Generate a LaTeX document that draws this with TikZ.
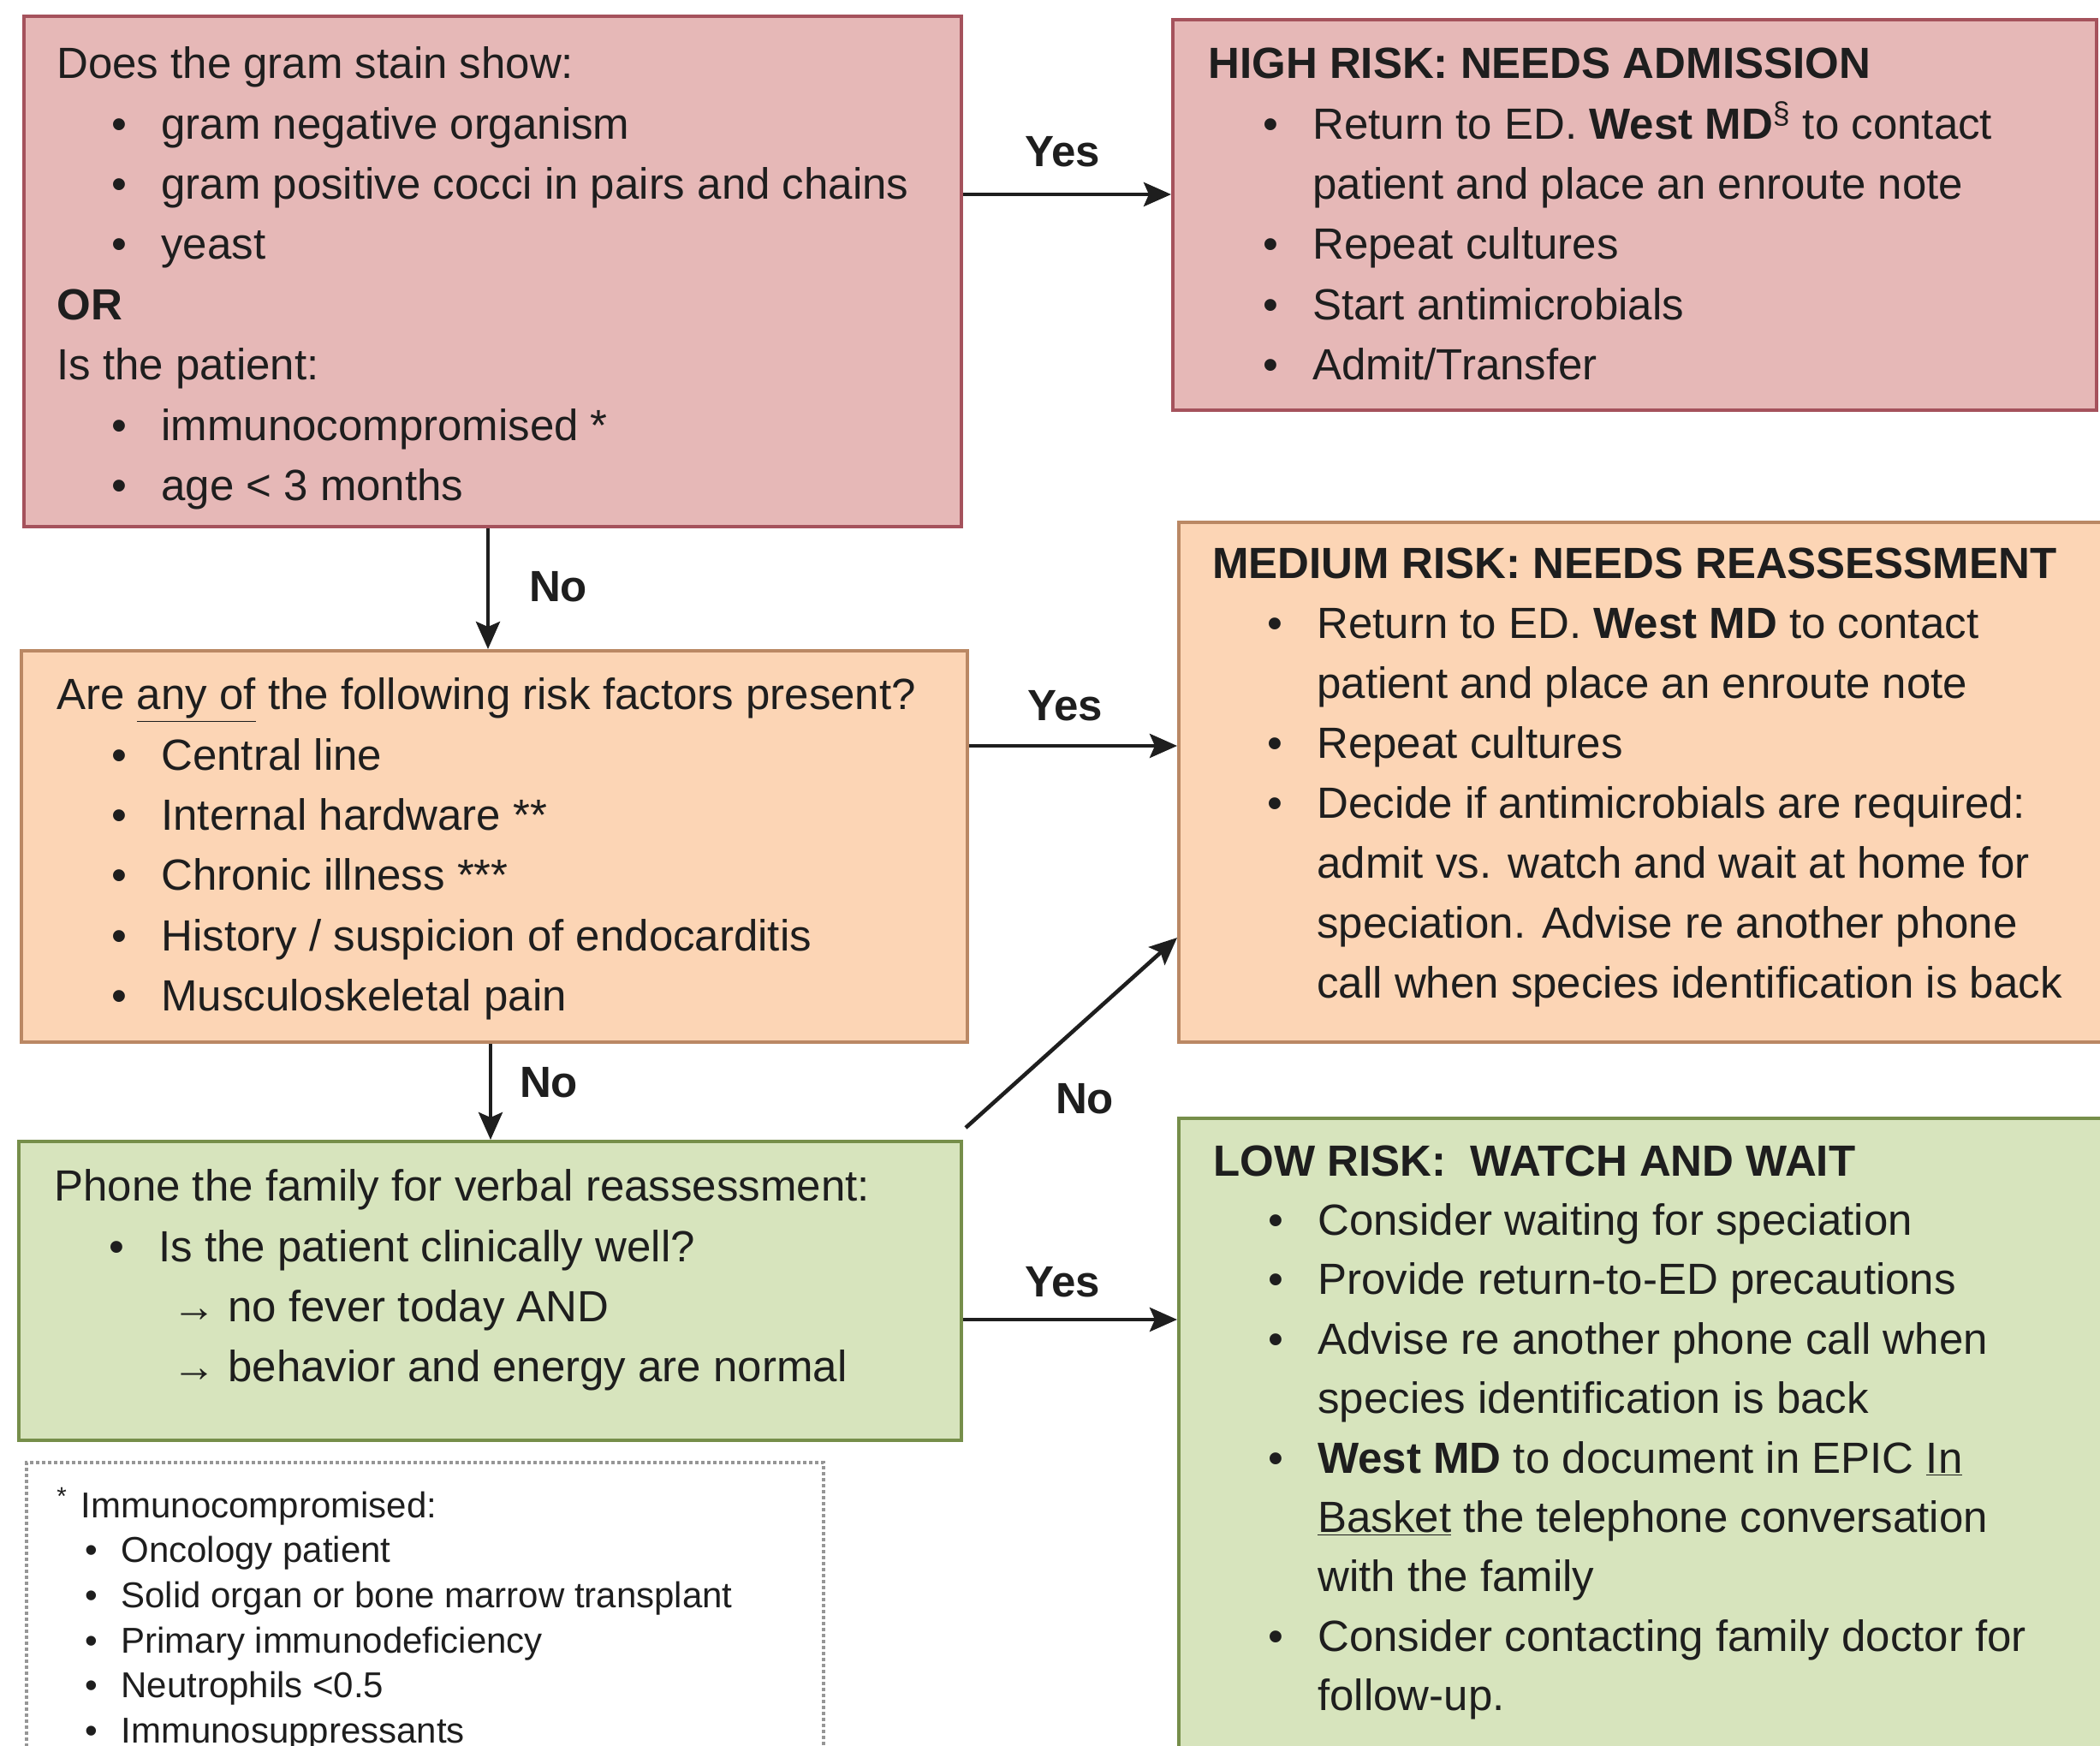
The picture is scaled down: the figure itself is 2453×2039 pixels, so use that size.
\documentclass[tikz,border=0pt]{standalone}
\usepackage{fontspec}
\setmainfont{Liberation Sans}
\usetikzlibrary{positioning,arrows.meta,calc,fit}
\definecolor{hifill}{RGB}{230,184,183}
\definecolor{hiline}{RGB}{165,82,92}
\definecolor{medfill}{RGB}{252,213,181}
\definecolor{medline}{RGB}{186,136,100}
\definecolor{lofill}{RGB}{215,228,189}
\definecolor{loline}{RGB}{118,142,74}
\definecolor{ink}{RGB}{30,30,30}
\definecolor{gray60}{RGB}{150,150,150}
\newcommand{\bul}{\hspace*{32pt}\makebox[29pt][l]{\textbullet}}
\newcommand{\cnt}{\hspace*{61pt}}
\newcommand{\sbul}{\hspace*{16.5pt}\makebox[21pt][l]{\textbullet}}
\tikzset{
  redbox/.style={draw=hiline, line width=2pt, fill=hifill, inner sep=0pt},
  orgbox/.style={draw=medline, line width=2pt, fill=medfill, inner sep=0pt},
  grnbox/.style={draw=loline, line width=2pt, fill=lofill, inner sep=0pt},
  notebox/.style={draw=gray60, line width=1.6pt, dash pattern=on 2pt off 1.5pt, fill=white, inner sep=0pt},
  txt/.style={anchor=north west, align=left, inner sep=0pt, text=ink,
              font=\fontsize{25.5}{35.2}\selectfont},
  notetxt/.style={txt, font=\fontsize{21}{26.3}\selectfont},
  lbl/.style={font=\fontsize{25.5}{30}\selectfont\bfseries, text=ink},
  arr/.style={-{Stealth[length=16pt,width=14pt,inset=3pt]}, line width=2.3pt, draw=ink},
}

\begin{document}
\begin{tikzpicture}[x=0.5pt,y=-0.5pt]
  \clip (0,0) rectangle (2453,2039);
  \fill[white] (0,0) rectangle (2453,2039);

  % boxes
  \node[redbox, fit={(28,19) (1123,615)}] (gram) {};
  \node[redbox, fit={(1370,23) (2449,479)}] (hi) {};
  \node[orgbox, fit={(25,760) (1130,1217)}] (risk) {};
  \node[orgbox, fit={(1377,610) (2460,1217)}] (med) {};
  \node[grnbox, fit={(22,1333) (1123,1682)}] (phone) {};
  \node[grnbox, fit={(1377,1306) (2460,2080)}] (low) {};
  \node[notebox, fit={(31,1708) (962,2080)}] (note) {};

  % texts
  \node[txt] (gram-t) at (66,42) {\strut Does the gram stain show:\\
    \bul gram negative organism\\
    \bul gram positive cocci in pairs and chains\\
    \bul yeast\\
    \textbf{OR}\\
    Is the patient:\\
    \bul immunocompromised *\\
    \bul age < 3 months};

  \node[txt] (hi-t) at (1411,42) {\strut\textbf{HIGH RISK: NEEDS ADMISSION}\\
    \bul Return to ED. \textbf{West MD}\textsuperscript{\S} to contact\\
    \cnt patient and place an enroute note\\
    \bul Repeat cultures\\
    \bul Start antimicrobials\\
    \bul Admit/Transfer};

  \node[txt] (risk-t) at (66,779) {\strut Are \underline{any of} the following risk factors present?\\
    \bul Central line\\
    \bul Internal hardware **\\
    \bul Chronic illness ***\\
    \bul History / suspicion of endocarditis\\
    \bul Musculoskeletal pain};

  \node[txt, font=\fontsize{25.5}{35}\selectfont] (med-t) at (1416,626) {\strut\textbf{MEDIUM RISK: NEEDS REASSESSMENT}\\
    \bul Return to ED. \textbf{West MD} to contact\\
    \cnt patient and place an enroute note\\
    \bul Repeat cultures\\
    \bul Decide if antimicrobials are required:\\
    \cnt admit vs. watch and wait at home for\\
    \cnt speciation. Advise re another phone\\
    \cnt call when species identification is back};

  \node[txt] (phone-t) at (63,1353) {\strut Phone the family for verbal reassessment:\\
    \bul Is the patient clinically well?\\
    \hspace*{69pt}→ no fever today AND\\
    \hspace*{69pt}→ behavior and energy are normal};

  \node[txt, font=\fontsize{25.5}{34.7}\selectfont] (low-t) at (1417,1324) {\strut\textbf{LOW RISK:\ \ WATCH AND WAIT}\\
    \bul Consider waiting for speciation\\
    \bul Provide return-to-ED precautions\\
    \bul Advise re another phone call when\\
    \cnt species identification is back\\
    \bul \textbf{West MD} to document in EPIC \underline{In}\\
    \cnt \underline{Basket} the telephone conversation\\
    \cnt with the family\\
    \bul Consider contacting family doctor for\\
    \cnt follow-up.};

  \node[notetxt] (note-t) at (66,1735) {\strut\textsuperscript{*}\hspace{8pt}Immunocompromised:\\
    \sbul Oncology patient\\
    \sbul Solid organ or bone marrow transplant\\
    \sbul Primary immunodeficiency\\
    \sbul Neutrophils <0.5\\
    \sbul Immunosuppressants};

  % connectors
  \draw[arr] (gram.east |- 0,227) -- (hi.west |- 0,227);
  \draw[arr] (gram.south -| 570,0) -- (risk.north -| 570,0);
  \draw[arr] (risk.east |- 0,871) -- (med.west |- 0,871);
  \draw[arr] (risk.south -| 573,0) -- (phone.north -| 573,0);
  \draw[arr] ($(phone.north east)+(3,-14)$) -- (med.west |- 0,1095);
  \draw[arr] (phone.east |- 0,1541) -- (low.west |- 0,1541);

  \node[lbl] (yes-hi) at (1241,177) {Yes};
  \node[lbl] (no-risk) at (652,685) {No};
  \node[lbl] (yes-med) at (1244,824) {Yes};
  \node[lbl] (no-phone) at (641,1264) {No};
  \node[lbl] (no-med) at (1267,1283) {No};
  \node[lbl] (yes-low) at (1241,1497) {Yes};
\end{tikzpicture}
\end{document}
